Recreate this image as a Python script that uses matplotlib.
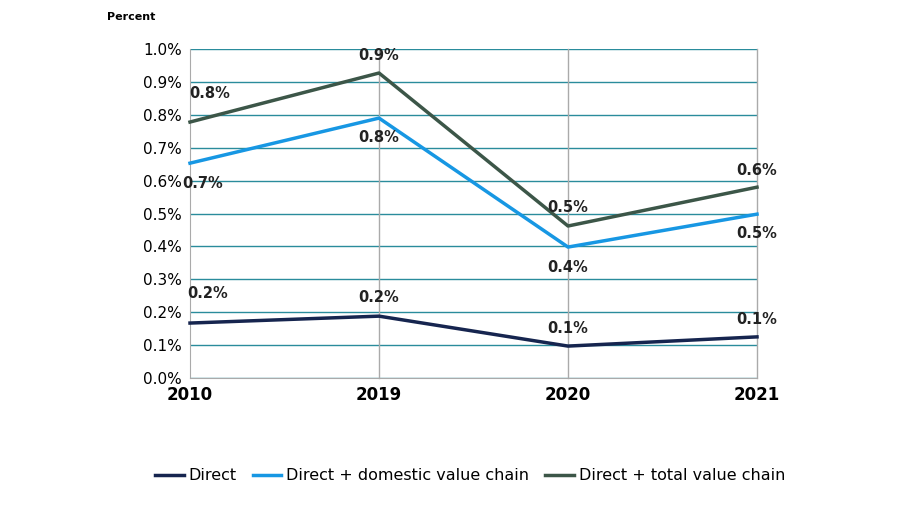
import matplotlib.pyplot as plt

years = ["2010", "2019", "2020", "2021"]
direct = [0.167, 0.188, 0.097, 0.125]
domestic = [0.653, 0.790, 0.398, 0.498]
total = [0.778, 0.927, 0.462, 0.580]
names = ["Direct", "Direct + domestic value chain", "Direct + total value chain"]
colors = ["#16254f", "#1797e3", "#3c5648"]

fig = plt.figure(figsize=(9.13, 5.14), dpi=100)
ax = fig.add_axes([190/913, 1-378/514, (757-190)/913, (378-49)/514])
x = range(len(years))
series = [direct, domestic, total]
offs = [[(18, 30), (0, 19), (0, 18), (0, 17)],
        [(13, -20), (0, -19), (0, -20), (0, -19)],
        [(20, 29), (0, 18), (0, 19), (0, 17)]]
for s, n, c, o in zip(series, names, colors, offs):
    ax.plot(x, s, color=c, lw=2.5, label=n, clip_on=False, zorder=3)
    for xi, v, (dx, dy) in zip(x, s, o):
        ax.annotate(f"{v:.1f}%", (xi, v), xytext=(dx, dy), textcoords="offset pixels",
                    ha="center", va="center", fontsize=10.5, fontweight="bold", color="#222222")
ax.set_xlim(0, 3)
ax.set_ylim(0, 1.0)
ax.set_yticks([i/10 for i in range(11)])
ax.set_yticklabels([f"{i/10:.1f}%" for i in range(11)], fontsize=11)
ax.set_xticks(list(x))
ax.set_xticklabels(years, fontsize=12, fontweight="bold")
ax.grid(axis="y", color="#2a8c9c", lw=1)
for xi in [1, 2, 3]:
    ax.axvline(xi, color="#aaaaaa", lw=1, clip_on=False, zorder=1)
ax.set_axisbelow(True)
for sp in ["top", "right"]:
    ax.spines[sp].set_visible(False)
ax.spines["bottom"].set_color("#aaaaaa")
ax.spines["left"].set_color("#aaaaaa")
ax.tick_params(length=0, pad=6)
fig.text(107/913, 1-17/514, "Percent", fontsize=8, fontweight="bold", va="center")
fig.legend(loc="center", bbox_to_anchor=(470/913, 1-476/514), ncol=3, frameon=False,
           fontsize=11.5, handlelength=1.8, columnspacing=1.0, handletextpad=0.3)
fig.savefig("out.png", dpi=100)
